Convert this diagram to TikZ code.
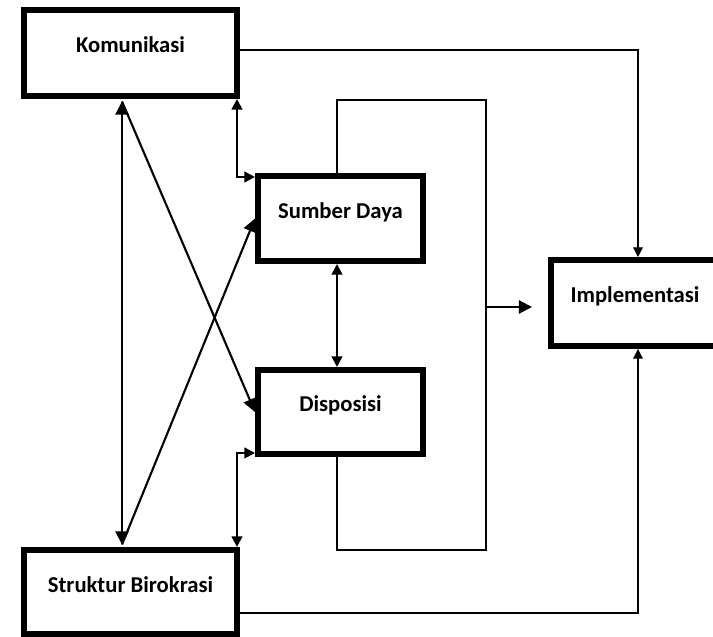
\documentclass[tikz,border=0pt]{standalone}
\usepackage{fontspec}
\setmainfont{Carlito}
\usetikzlibrary{arrows.meta}
\begin{document}
\begin{tikzpicture}[>={Triangle[length=7.5pt,width=7.5pt]}]
\tikzset{boite/.style={draw, line width=3.4pt, font=\fontsize{12.9}{15}\selectfont\bfseries, text height=0.35cm, text depth=0.35cm},
fleche/.style={line width=1.2pt},
petite/.style={line width=1.2pt, >={Triangle[length=6pt,width=6pt]}},
fil/.style={line width=0.7pt, >={Triangle[length=5.5pt,width=5.5pt]}}}
\useasboundingbox (0, 0) rectangle (14.26, -12.74);
\clip (0, 0) rectangle (14.26, -12.74);
\node[boite, minimum width=4.26cm, minimum height=1.72cm] (K) at (2.61, -1.06) {Komunikasi};
\node[boite, minimum width=3.3cm, minimum height=1.7cm] (SD) at (6.81, -4.37) {Sumber Daya};
\node[boite, minimum width=3.3cm, minimum height=1.68cm] (D) at (6.81, -8.24) {Disposisi};
\node[boite, minimum width=3.36cm, minimum height=1.72cm] (I) at (12.7, -6.06) {Implementasi};
\node[boite, minimum width=4.26cm, minimum height=1.68cm] (SB) at (2.61, -11.84) {Struktur Birokrasi};
\coordinate (haut) at (9.72, -2.0);
\coordinate (bas) at (9.72, -11.0);
\coordinate (milieu) at (9.72, -6.14);
\draw[fleche, <->] ([xshift=-0.17cm, yshift=-0.05cm]K.south) -- ([xshift=-0.17cm, yshift=0.05cm]SB.north);
\draw[fleche, ->] ([xshift=-0.17cm, yshift=-0.05cm]K.south) -- (D.west);
\draw[fleche, ->] ([xshift=-0.17cm, yshift=0.05cm]SB.north) -- (SD.west);
\draw[petite, <->] ([xshift=-0.06cm]K.south east) |- ([yshift=-0.08cm]SD.north west);
\draw[petite, <->] ([yshift=0.08cm]D.south west) -| ([xshift=-0.06cm]SB.north east);
\draw[petite, <->] ([xshift=-0.07cm]SD.south) -- ([xshift=-0.07cm]D.north);
\draw[fil] ([xshift=-0.07cm]SD.north) |- (haut) -- (bas) -| ([xshift=-0.07cm]D.south);
\draw[fleche, ->, shorten >=0.32cm] (milieu) -- (milieu -| I.west);
\draw[fil, ->] ([yshift=0.06cm]K.east) -| ([xshift=0.06cm]I.north);
\draw[fil, ->] ([yshift=-0.42cm]SB.east) -| ([xshift=0.06cm]I.south);
\end{tikzpicture}
\end{document}
